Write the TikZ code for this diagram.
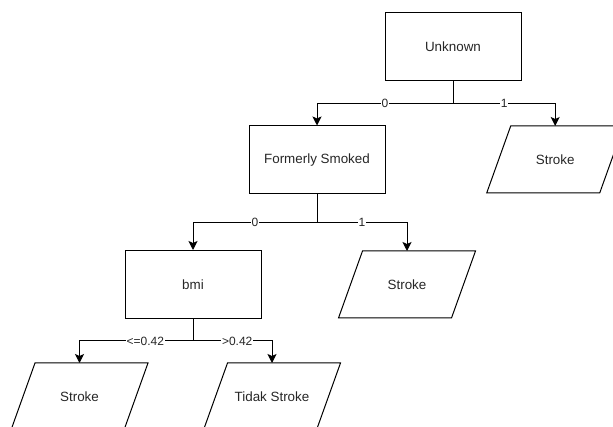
\documentclass[tikz,border=0pt]{standalone}
\usepackage{fontspec}
\setmainfont{Liberation Sans}
\usetikzlibrary{arrows.meta}

\begin{document}
\begin{tikzpicture}[x=1pt, y=-1pt,
  every node/.style={font=\fontsize{13.4}{16}\selectfont, text=black!85},
  box/.style={draw=black, line width=1pt, minimum width=136pt, minimum height=68pt, inner sep=0pt},
  para/.style={minimum width=137pt, minimum height=67pt, inner sep=0pt, outer sep=0pt},
  outline/.style={draw, line width=1pt, line join=miter},
  link/.style={line width=1pt},
  edge/.style={line width=1pt, -{Stealth[length=9pt, width=9pt, inset=2pt]}},
  lbl/.style={fill=white, inner sep=1pt, font=\fontsize{12}{14}\selectfont}
]
% page area
\clip (0,0) rectangle (613,427);

% decision boxes
\node[box] (u) at (453,47) {Unknown};
\node[box] (f) at (317,160) {Formerly Smoked};
\node[box] (b) at (193,284.5) {bmi};

% outcome nodes (parallelograms drawn below)
\node[para] (s1) at (555.2,159.5) {Stroke};
\node[para] (s2) at (407,284.5) {Stroke};
\node[para] (s3) at (79.5,396.5) {Stroke};
\node[para] (s4) at (272,396.5) {Tidak Stroke};

\foreach \n in {s1,s2,s3,s4}
  \draw[outline] ([xshift=24pt]\n.north west) -- (\n.north east)
    -- ([xshift=-24pt]\n.south east) -- (\n.south west) -- cycle;

% branches from Unknown
\draw[link] (u.south) -- ++(0,22) coordinate (j1);
\draw[edge] (j1) -| node[pos=0.25, lbl] {0} (f.north);
\draw[edge] (j1) -| node[pos=0.25, lbl] {1} (s1.north);

% branches from Formerly Smoked
\draw[link] (f.south) -- ++(0,28) coordinate (j2);
\draw[edge] (j2) -| node[pos=0.25, lbl] {0} (b.north);
\draw[edge] (j2) -| node[pos=0.25, lbl] {1} (s2.north);

% branches from bmi
\draw[link] (b.south) -- ++(0,22) coordinate (j3);
\draw[edge] (j3) -| node[pos=0.21, lbl] {<=0.42} (s3.north);
\draw[edge] (j3) -| node[pos=0.28, lbl] {>0.42} (s4.north);
\end{tikzpicture}
\end{document}
